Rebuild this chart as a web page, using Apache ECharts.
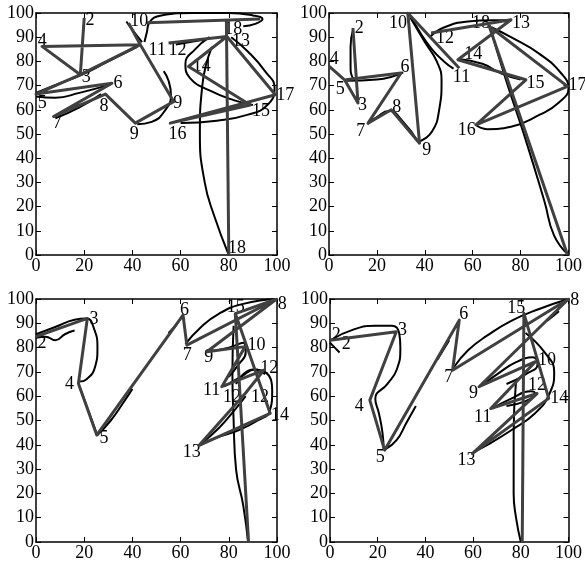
<!DOCTYPE html>
<html><head><meta charset="utf-8">
<script src="https://cdn.jsdelivr.net/npm/echarts@6/dist/echarts.min.js"></script>
<style>html,body{margin:0;padding:0;background:#fff}#c{width:585px;height:562px}</style>
</head><body><div id="c"></div>
<script>
const xTickLabels = ['0','20','40','60','80','100'];
const yTickLabels = ['0','10','20','30','40','50','60','70','80','90','100'];

// Panel 1 (top-left)
const p1Gray = [
  [[20,98],[18.4,74.5],[2.5,86.2],[43.3,86.9],[18.4,74.5],[0,66.5],[31.5,71],[7.3,57.2],[28.8,66.5],[41.2,54.5],[57.1,63.4],[43.3,86.9],[38.4,95.9]],
  [[46,96],[93,97.5]],
  [[55,87.6],[79.2,90.3],[63.3,77.9],[88.9,62],[55.7,54.5],[99.3,66.2],[79.2,90.3]],
  [[79,97],[80,0]]
];
const p1Black = [
  [[0,65.5],[8,65],[18,67],[31,70.5]],
  [[0,67],[10,71],[18,74],[30,80],[42,86]],
  [[8,56.5],[18,61],[27,66.5]],
  [[42,54],[48,55],[53,59],[56,66],[55,72],[53,76]],
  [[37.5,96.5],[40,93],[44,88]],
  [[45,88],[46,92],[47,96],[52,99],[65,100],[80,100],[90,99],[94,97.5],[91,95.5],[86,94.5]],
  [[58,87],[70,89]],
  [[72,90],[66,85],[62,79],[64,73],[72,68],[82,64],[90,62]],
  [[81,90],[88,84],[95,76],[99,69],[96,62],[88,58],[75,55.5],[60,54.5]],
  [[73,86],[69,70],[68,50],[70,30],[74,16],[80,0]]
];
const p1Labels = [
  [20.5,97,'2'],[0.7,88.3,'4'],[19,73.5,'3'],[0.7,62.8,'5'],[32.2,70.8,'6'],[7,54.5,'7'],
  [26.4,61.4,'8'],[38.9,50,'9'],[57,62.5,'9'],[39.1,96.6,'10'],[46.7,84.8,'11'],[55,84.8,'12'],
  [81.3,88.3,'13'],[65,78,'14'],[89.6,59.3,'15'],[55,49.7,'16'],[99.7,66.2,'17'],[79.7,2.8,'18'],[78.1,93.1,'18']
];

// Panel 2 (top-right)
const p2Gray = [
  [[0,78],[6.5,72.4],[12.1,62.8],[10,93.8]],
  [[7,72.4],[30.1,75.2],[16.3,54.5],[26,60],[37.8,46.2],[32.9,100],[54.4,77.2]],
  [[42.6,91.7],[76,97.2],[53.8,80.7],[82.2,72.4],[61.4,53.8],[99.6,69.7],[66.9,94.5],[99.6,0]]
];
const p2Black = [
  [[10,93],[9,86],[9,78],[10,73],[12,72]],
  [[7,72],[20,72.5],[31,75.5]],
  [[16,54],[20,57],[25,59.5],[31,55],[37,47]],
  [[38,47],[43,51],[46,60],[47,72],[45,80],[40,88],[34,98]],
  [[34,99],[38,92],[43,85],[48,80],[52,77]],
  [[42,90],[48,94],[58,96.5],[68,97],[76,97]],
  [[54,81],[64,79],[72,75],[80,72.5]],
  [[61,54],[66,52],[76,53],[88,58],[96,63],[100,69],[97,75],[88,83],[76,90],[68,94]],
  [[67,95],[74,72],[82,48],[90,22],[94,8],[100,0]]
];
const p2Labels = [
  [10.7,93.8,'2'],[0.3,81,'4'],[2.8,68.3,'5'],[12.1,62,'3'],[29.9,77.5,'6'],[11.4,51.3,'7'],
  [26.4,61.1,'8'],[38.9,43.2,'9'],[25,95.9,'10'],[51.7,73.5,'11'],[44.7,89.7,'12'],[76.4,95.9,'13'],
  [56.5,82.8,'14'],[82.5,71,'15'],[53.8,51.4,'16'],[100,70.3,'17'],[59.7,95.6,'18']
];

// Panel 3 (bottom-left)
const p3Gray = [
  [[0,84.5],[21.3,92],[17.6,65.2],[25.2,44],[61,93.4],[62.6,81],[99.7,99.9],[70.9,78.3],[86.8,80.4],[77.1,63.9],[94.5,70.7],[86.8,61.1],[67.7,39.8],[97.2,52.9],[82.7,94],[88.2,0]],
  [[99.7,99.9],[82.7,94]]
];
const p3Black = [
  [[0,84],[4,84.5],[8,83],[12,85.5],[16,87]],
  [[0,85.5],[8,88.5],[16,91.5],[21,92],[24,88],[25.5,80],[24.5,72],[21,67],[18,66]],
  [[18,64],[21,56],[25,45]],
  [[25.5,44],[31,50],[36,57],[40,63]],
  [[55,86],[58,89]],
  [[62,81.5],[68,88],[76,94],[86,98],[100,100]],
  [[72,78.5],[80,80],[86,82],[87,78],[84,73],[80,68]],
  [[78,64],[85,68],[91,71],[95,69]],
  [[83,65],[90,71],[95,70],[98,62],[97,54],[92,50],[84,46],[75,43],[68,40]],
  [[68,40],[76,47],[83,55],[87,60]],
  [[82,89],[81.5,70],[82,50],[83,30],[86,15],[88,0]]
];
const p3Labels = [
  [0.6,81.7,'2'],[22.2,91.6,'3'],[12,65,'4'],[26.3,42.6,'5'],[59.8,95.5,'6'],[60.9,76.9,'7'],
  [100.3,97.9,'8'],[79.2,96.8,'15'],[69.8,76.2,'9'],[87.8,81,'10'],[69.3,62.5,'11'],[93,71.4,'12'],
  [77.6,59.5,'12'],[89.2,59.5,'12'],[97.5,52.2,'14'],[60.9,37.1,'13']
];

// Panel 4 (bottom-right)
const p4Gray = [
  [[0,83],[27.8,86.5],[16.7,58.4],[22.9,37.8],[54.2,91.3],[51.4,70.7],[100,100],[62.5,63.9],[86.1,74.2],[67.4,54.9],[86.8,61.1],[59.7,36.4],[91.7,59.1],[81.3,94.1],[80.6,0]]
];
const p4Black = [
  [[0,82],[2,80],[4,78]],
  [[0,83],[10,87.5],[19,89],[26,89],[29,86],[29.5,80],[28,71],[24,65],[19,59],[20.5,53],[22,45],[22.5,38]],
  [[23,38],[28,42],[32,49],[36,56]],
  [[45,75],[50,83]],
  [[52,72],[58,79],[66,85],[76,91],[88,96],[100,100]],
  [[91,91],[96,95]],
  [[63,64],[70,69],[78,74],[85,76],[87,73],[82,69],[74,65]],
  [[68,55],[76,59],[84,62],[86,61],[82,58],[74,56]],
  [[82,86],[90,78],[94,70],[92,61],[86,53],[76,46],[66,40],[60,37]],
  [[78,66],[77,45],[77,20],[78,10],[80,0]]
];
const p4Labels = [
  [0.7,85.2,'2'],[4.9,81.5,'2'],[28.5,87,'3'],[10.4,55.9,'4'],[19.2,34.8,'5'],[54.2,93.8,'6'],
  [47.9,67.7,'7'],[100.7,99.3,'8'],[74.3,96.2,'15'],[58.3,61.4,'9'],[87.2,74.9,'10'],[60.4,51.2,'11'],
  [83,64.6,'12'],[92.4,59.1,'14'],[53.5,33.7,'13']
];

const panels = [
  {gray:p1Gray, black:p1Black, labels:p1Labels},
  {gray:p2Gray, black:p2Black, labels:p2Labels},
  {gray:p3Gray, black:p3Black, labels:p3Labels},
  {gray:p4Gray, black:p4Black, labels:p4Labels}
];
const grids = [
  {left:36, top:13, width:241, height:242},
  {left:329, top:13, width:240, height:242},
  {left:36, top:299, width:241, height:243},
  {left:330, top:299, width:240, height:243}
];
const FONT = 'Liberation Serif';
const xAxes = [], yAxes = [], series = [];
grids.forEach((g, i) => {
  const common = {min:0, max:100, splitLine:{show:false},
    axisLine:{show:true, onZero:false, lineStyle:{color:'#000', width:1.5}},
    axisTick:{show:true, inside:true, length:5, lineStyle:{color:'#000', width:1}}};
  xAxes.push(Object.assign({}, common, {type:'value', gridIndex:i, position:'bottom', interval:20,
    axisLabel:{fontFamily:FONT, fontSize:18, color:'#000', margin:2,
      formatter:(v)=>xTickLabels[Math.round(v/20)]}}));
  yAxes.push(Object.assign({}, common, {type:'value', gridIndex:i, position:'left', interval:10,
    axisLabel:{fontFamily:FONT, fontSize:18, color:'#000', margin:2,
      formatter:(v)=>yTickLabels[Math.round(v/10)]}}));
});
grids.forEach((g, i) => {
  const common = {min:0, max:100, splitLine:{show:false},
    axisLine:{show:true, onZero:false, lineStyle:{color:'#000', width:1.5}},
    axisTick:{show:true, inside:true, length:5, lineStyle:{color:'#000', width:1}},
    axisLabel:{show:false}};
  xAxes.push(Object.assign({}, common, {type:'value', gridIndex:i, position:'top', interval:20}));
  yAxes.push(Object.assign({}, common, {type:'value', gridIndex:i, position:'right', interval:10}));
});
panels.forEach((p, i) => {
  series.push({type:'scatter', xAxisIndex:i, yAxisIndex:i, z:1, symbolSize:0, clip:false, silent:true,
    itemStyle:{color:'#000', opacity:1},
    data:p.labels.map(l=>({value:[l[0],l[1]], name:l[2]})),
    label:{show:true, position:[0,0], align:'left', verticalAlign:'middle', opacity:1,
      formatter:(d)=>d.name, fontFamily:FONT, fontSize:18, color:'#000'}});
  p.black.forEach(seg => series.push({type:'line', xAxisIndex:i, yAxisIndex:i, data:seg,
    smooth:0.5, showSymbol:false, silent:true, z:2,
    lineStyle:{color:'#000', width:2}}));
  p.gray.forEach(seg => series.push({type:'line', xAxisIndex:i, yAxisIndex:i, data:seg,
    smooth:false, showSymbol:false, silent:true, z:3,
    lineStyle:{color:'#404040', width:3, join:'round'}}));
});
const chart = echarts.init(document.getElementById('c'), null, {renderer:'canvas'});
chart.setOption({animation:false, backgroundColor:'#fff', grid:grids, xAxis:xAxes, yAxis:yAxes, series:series});
</script></body></html>
